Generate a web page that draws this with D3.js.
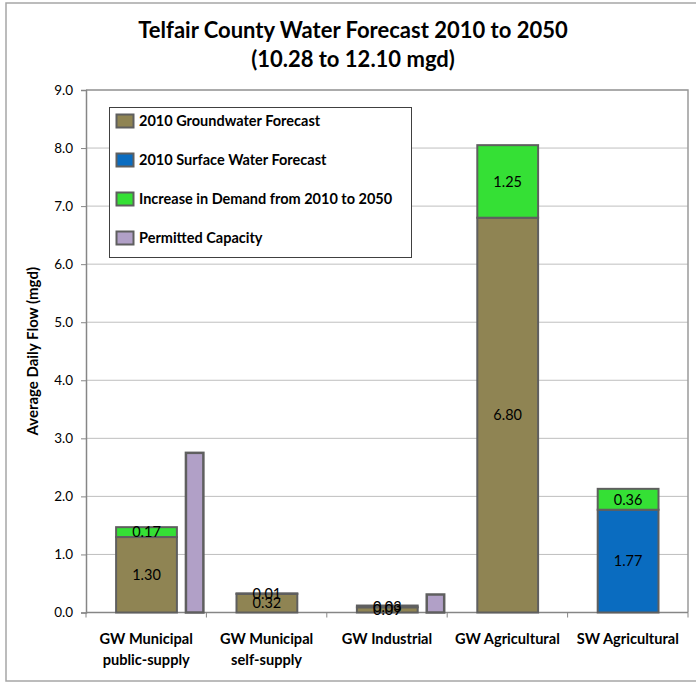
<!DOCTYPE html>
<html>
<head>
<meta charset="utf-8">
<script src="https://cdn.jsdelivr.net/npm/d3@7"></script>
<style>
  html, body { margin: 0; padding: 0; background: #fff; }
  svg { display: block; font-family: Lato, "Open Sans", sans-serif; }
</style>
</head>
<body>
<svg id="chart" width="696" height="683"></svg>
<script>
// Water use categories (two-line labels)
const categories = [
  ["GW Municipal", "public-supply"],
  ["GW Municipal", "self-supply"],
  ["GW Industrial"],
  ["GW Agricultural"],
  ["SW Agricultural"]
];
// 2010 forecasts (mgd)
const groundwater2010 = [1.30, 0.32, 0.09, 6.80, 0];
const surface2010     = [0, 0, 0, 0, 1.77];
// Increase in demand 2010 to 2050 (mgd)
const increase        = [0.17, 0.01, 0.03, 1.25, 0.36];
// Permitted capacity (mgd); null where none is shown
const permitted       = [2.75, null, 0.31, null, null];

const yTicks = [0, 1, 2, 3, 4, 5, 6, 7, 8, 9];
const legendItems = [
  { label: "2010 Groundwater Forecast", color: "#8f8453" },
  { label: "2010 Surface Water Forecast", color: "#0a6cc0" },
  { label: "Increase in Demand from 2010 to 2050", color: "#35e035" },
  { label: "Permitted Capacity", color: "#b1a0c7" }
];
const colors = {
  gw: legendItems[0].color,
  sw: legendItems[1].color,
  inc: legendItems[2].color,
  perm: legendItems[3].color
};

const svg = d3.select("#chart");
const W = 696;
const plot = { left: 86, right: 688, top: 90, bottom: 612.5 };

// Outer chart frame
svg.append("rect")
  .attr("x", 6).attr("y", 3).attr("width", W + 10).attr("height", 678)
  .attr("fill", "#fff").attr("stroke", "#a6a6a6").attr("stroke-width", 1.5);

// Title
const title = svg.append("text")
  .attr("text-anchor", "middle")
  .attr("font-weight", "bold").attr("font-size", 22).attr("fill", "#000");
title.append("tspan").attr("x", 353).attr("y", 38).text("Telfair County Water Forecast 2010 to 2050");
title.append("tspan").attr("x", 353).attr("y", 67).text("(10.28 to 12.10 mgd)");

const x = d3.scaleBand()
  .domain(d3.range(categories.length))
  .range([plot.left, plot.right])
  .paddingInner(0).paddingOuter(0);
const bw = x.bandwidth();

const y = d3.scaleLinear().domain([0, 9]).range([plot.bottom, plot.top]);

// Gridlines
svg.append("g")
  .selectAll("line")
  .data(yTicks.slice(1))
  .join("line")
  .attr("x1", plot.left).attr("x2", plot.right)
  .attr("y1", d => y(d)).attr("y2", d => y(d))
  .attr("stroke", "#bfbfbf").attr("stroke-width", 1);

// Plot area border (top and right)
svg.append("path")
  .attr("d", `M${plot.left},${plot.top}H${plot.right}V${plot.bottom}`)
  .attr("fill", "none").attr("stroke", "#9a9a9a").attr("stroke-width", 1.5);

// Y axis
const yAxis = svg.append("g")
  .attr("transform", `translate(${plot.left},0)`)
  .call(d3.axisLeft(y).tickValues(yTicks).tickFormat(d3.format(".1f")).tickSize(5).tickPadding(8));
yAxis.select(".domain").attr("stroke", "#868686").attr("stroke-width", 1.5);
yAxis.selectAll(".tick line").attr("stroke", "#868686");
yAxis.selectAll(".tick text")
  .attr("font-family", "Lato, sans-serif").attr("font-size", 13.5).attr("fill", "#000");

// X axis baseline and category ticks
svg.append("line")
  .attr("x1", plot.left).attr("x2", plot.right)
  .attr("y1", plot.bottom).attr("y2", plot.bottom)
  .attr("stroke", "#868686").attr("stroke-width", 1.5);
svg.append("g")
  .selectAll("line")
  .data(d3.range(categories.length + 1))
  .join("line")
  .attr("x1", i => plot.left + i * bw).attr("x2", i => plot.left + i * bw)
  .attr("y1", plot.bottom).attr("y2", plot.bottom + 5)
  .attr("stroke", "#868686").attr("stroke-width", 1);

// Category labels
const catG = svg.append("g");
categories.forEach((lines, i) => {
  const t = catG.append("text")
    .attr("text-anchor", "middle")
    .attr("font-weight", "bold").attr("font-size", 14.6).attr("fill", "#000");
  lines.forEach((ln, j) => {
    t.append("tspan").attr("x", x(i) + bw / 2).attr("y", 644 + j * 21).text(ln);
  });
});

// Y axis title
svg.append("text")
  .attr("transform", `translate(38,${(plot.top + plot.bottom) / 2}) rotate(-90)`)
  .attr("text-anchor", "middle")
  .attr("font-weight", "bold").attr("font-size", 15).attr("fill", "#000")
  .text("Average Daily Flow (mgd)");

// Bar geometry relative to each category band
const stackOffset = bw * 0.25, stackWidth = bw * 0.505;
const permOffset = bw * 0.83, permWidth = bw * 0.145;

// Stacked segments: base forecast then increase
const segments = [];
categories.forEach((c, i) => {
  const base = groundwater2010[i] > 0 ? groundwater2010[i] : surface2010[i];
  const baseColor = groundwater2010[i] > 0 ? colors.gw : colors.sw;
  segments.push({ i, y0: 0, y1: base, value: base, color: baseColor });
  segments.push({ i, y0: base, y1: base + increase[i], value: increase[i], color: colors.inc });
});

const barStroke = "#5f5f5f";
svg.append("g")
  .selectAll("rect")
  .data(segments)
  .join("rect")
  .attr("x", d => x(d.i) + stackOffset)
  .attr("width", stackWidth)
  .attr("y", d => y(d.y1))
  .attr("height", d => y(d.y0) - y(d.y1))
  .attr("fill", d => d.color)
  .attr("stroke", barStroke).attr("stroke-width", 2);

// Permitted capacity bars
svg.append("g")
  .selectAll("rect")
  .data(permitted.map((v, i) => ({ i, v })).filter(d => d.v != null))
  .join("rect")
  .attr("x", d => x(d.i) + permOffset)
  .attr("width", permWidth)
  .attr("y", d => y(d.v))
  .attr("height", d => y(0) - y(d.v))
  .attr("fill", colors.perm)
  .attr("stroke", barStroke).attr("stroke-width", 2.5);

// Value labels centred in each segment
svg.append("g")
  .selectAll("text")
  .data(segments)
  .join("text")
  .attr("x", d => x(d.i) + stackOffset + stackWidth / 2)
  .attr("y", d => y((d.y0 + d.y1) / 2))
  .attr("dy", "0.36em")
  .attr("text-anchor", "middle")
  .attr("font-size", 14.5).attr("fill", "#000")
  .text(d => d3.format(".2f")(d.value));

// Legend
const lg = svg.append("g");
lg.append("rect")
  .attr("x", 109.5).attr("y", 107.5).attr("width", 302).attr("height", 150)
  .attr("fill", "#fff").attr("stroke", "#404040").attr("stroke-width", 1);
legendItems.forEach((it, k) => {
  const cy = [121, 160, 199, 238][k];
  lg.append("rect")
    .attr("x", 116.5).attr("y", cy - 6.5).attr("width", 17).attr("height", 13)
    .attr("fill", it.color).attr("stroke", "#5f5f5f").attr("stroke-width", 2);
  lg.append("text")
    .attr("x", 139).attr("y", cy).attr("dy", "0.35em")
    .attr("font-weight", "bold").attr("font-size", 14.5).attr("fill", "#000")
    .text(it.label);
});
</script>
</body>
</html>
